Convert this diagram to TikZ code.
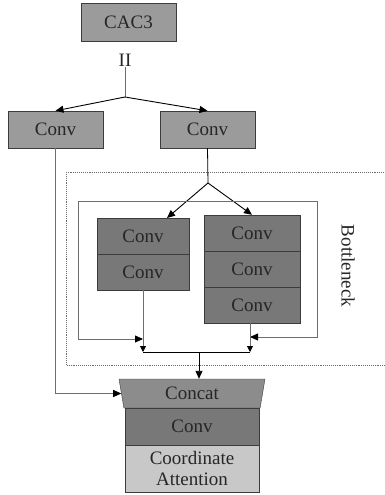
\documentclass[tikz,border=0pt]{standalone}
\usepackage{fontspec}
\setmainfont{Liberation Serif}
\usepackage{tikz}
\usetikzlibrary{arrows.meta}
\usetikzlibrary{shapes.geometric}
\usepackage{xcolor}
\definecolor{ColTop}{RGB}{155,155,155}
\definecolor{ColDark}{RGB}{120,120,120}
\definecolor{ColMid}{RGB}{140,140,140}
\definecolor{ColLight}{RGB}{200,200,200}
\definecolor{ColEdge}{RGB}{60,60,60}
\definecolor{ColLine}{RGB}{110,110,110}
\tikzstyle{BigText}=[font=\fontsize{19}{21}\selectfont,text=black!85]
\tikzstyle{BlockConv}=[rectangle,draw=ColEdge,fill=ColTop,inner sep=0pt,BigText]
\tikzstyle{BlockDark}=[BlockConv,fill=ColDark]
\tikzstyle{EdgeArrow}=[black,line width=0.9pt,-{Triangle[length=8pt,width=7pt]}]
\tikzstyle{EdgeThin}=[ColLine,line width=0.8pt]
\tikzstyle{TipThin}=[-{Triangle[length=8pt,width=7pt,black]}]
\tikzstyle{FrameDash}=[ColLine,line width=0.9pt,densely dotted]

\begin{document}
\begin{tikzpicture}[x=1pt,y=-1pt]
        \clip (0,0) rectangle (385,495);
        % input and first split
        \node[BlockConv,minimum width=95pt,minimum height=38pt](cac)at(128.5,22){CAC3};
        \node[BigText,inner sep=1pt](ii)at(125,60){II};
        \coordinate(splitA)at(125,97);
        \node[BlockConv,minimum width=95pt,minimum height=37pt](convL)at(55.5,129.5){Conv};
        \node[BlockConv,minimum width=95pt,minimum height=37pt](convR)at(207.5,129.5){Conv};
        \draw[EdgeThin](ii.south)--(splitA);
        \draw[EdgeArrow](splitA)--(convL.north);
        \draw[EdgeArrow](splitA)--(convR.north);
        % bottleneck frame
        \draw[FrameDash](66,172)rectangle(392,365);
        \node[BigText,rotate=-90](bneck)at(348,266){Bottleneck};
        \coordinate(splitB)at(208,183);
        \node[BlockDark,minimum width=92pt,minimum height=36pt](bL1)at(143,236){Conv};
        \node[BlockDark,minimum width=92pt,minimum height=36pt](bL2)at(143,272){Conv};
        \node[BlockDark,minimum width=96pt,minimum height=36pt](bR1)at(252,233){Conv};
        \node[BlockDark,minimum width=96pt,minimum height=36pt](bR2)at(252,269){Conv};
        \node[BlockDark,minimum width=96pt,minimum height=36pt](bR3)at(252,305){Conv};
        \coordinate(tipL)at(167,218);
        \draw[EdgeThin,black](convR.south)--(splitB);
        \draw[EdgeArrow](splitB)--(tipL);
        \draw[EdgeArrow](splitB)--(bR1.north);
        % residual loop
        \coordinate(loopTL)at(78,201);
        \coordinate(loopTR)at(317,201);
        \coordinate(loopBL)at(78,339);
        \coordinate(loopBR)at(317,337);
        \coordinate(joinL)at(143,352);
        \coordinate(joinR)at(250,352);
        \coordinate(joinM)at(199,352);
        \draw[EdgeThin,TipThin](loopTL)--(loopBL)--(bL2.south|-loopBL);
        \draw[EdgeThin,TipThin](loopTL)--(loopTR)--(loopBR)--(joinR|-loopBR);
        \draw[EdgeThin,-{Triangle[length=6pt,width=6pt,black]}](bL2.south)--(joinL);
        \draw[EdgeThin,-{Triangle[length=6pt,width=6pt,black]}](joinR|-bR3.south)--(joinR);
        \draw[black,line width=0.9pt](joinL)--(joinR);
        % output stack
        \node[trapezium,trapezium angle=69,trapezium stretches body,shape border rotate=180,
          draw=ColEdge,fill=ColMid,inner sep=0pt,minimum width=146pt,minimum height=29pt,BigText](concat)at(192,393.5){Concat};
        \node[BlockDark,minimum width=134pt,minimum height=37pt](convC)at(192,426.5){Conv};
        \node[BlockConv,fill=ColLight,minimum width=134pt,minimum height=47pt,align=center](coord)at(192,468.5){Coordinate\\Attention};
        \draw[EdgeArrow](joinM)--(joinM|-concat.north);
        \draw[EdgeThin,TipThin](convL.south)|-(concat.west);
    \end{tikzpicture}
\end{document}
